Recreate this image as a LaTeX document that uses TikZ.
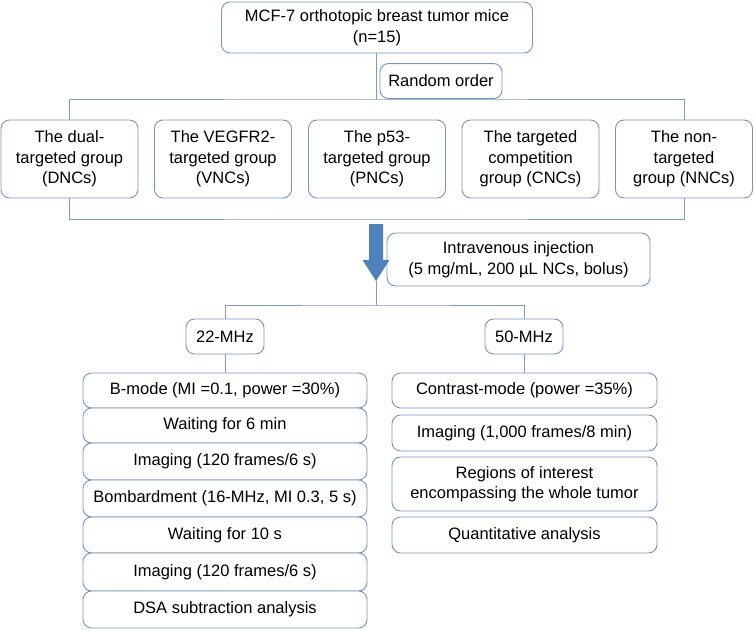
\documentclass[tikz,border=0pt]{standalone}
\usepackage{fontspec}
\setmainfont{Liberation Sans}
\usetikzlibrary{calc}
\definecolor{bordercol}{RGB}{118,148,194}
\definecolor{linecol}{RGB}{125,155,200}
\definecolor{arrowcol}{RGB}{79,129,189}
\tikzset{
  fbox/.style={draw=bordercol, line width=0.9pt, rounded corners=8.5pt, align=center,
    inner sep=0pt, font=\fontsize{16.5}{20.5}\selectfont, fill=white},
  conn/.style={draw=linecol, line width=0.9pt},
}
\begin{document}
\begin{tikzpicture}[x=1pt,y=-1pt]
\useasboundingbox (0,0) rectangle (754,629);
% top
\node[fbox, minimum width=311pt, minimum height=51pt] (top) at (377,27.5) {MCF-7 orthotopic breast tumor mice\\(n=15)};
\coordinate (split1) at (376,99);
\node[fbox, minimum width=122pt, minimum height=35pt, anchor=south] (rand) at (441,99) {Random order};
% groups
\node[fbox, minimum width=137pt, minimum height=78pt] (g1) at (69.5,159) {The dual-\\targeted group\\(DNCs)};
\node[fbox, minimum width=137pt, minimum height=78pt] (g2) at (223,159) {The VEGFR2-\\targeted group\\(VNCs)};
\node[fbox, minimum width=137pt, minimum height=78pt] (g3) at (377,159) {The p53-\\targeted group\\(PNCs)};
\node[fbox, minimum width=137pt, minimum height=78pt] (g4) at (530.5,159) {The targeted\\competition\\group (CNCs)};
\node[fbox, minimum width=137pt, minimum height=78pt] (g5) at (684,159) {The non-\\targeted\\group (NNCs)};
\coordinate (join1) at (376,219);
\coordinate (tip) at (376,281);
\coordinate (split2) at (376,305);
% injection
\node[fbox, minimum width=263pt, minimum height=53pt] (inj) at (518.5,259.5) {Intravenous injection\\(5 mg/mL, 200 µL NCs, bolus)};
% frequencies
\node[fbox, minimum width=78pt, minimum height=35pt] (f22) at (225,336.5) {22-MHz};
\node[fbox, minimum width=78pt, minimum height=35pt] (f50) at (524,336.5) {50-MHz};
% left column
\node[fbox, minimum width=284pt, minimum height=35pt] (l1) at (225,390.5) {B-mode (MI =0.1, power =30\%)};
\node[fbox, minimum width=284pt, minimum height=35pt] (l2) at (225,425.5) {Waiting for 6 min};
\node[fbox, minimum width=284pt, minimum height=37pt] (l3) at (225,461.5) {Imaging (120 frames/6 s)};
\node[fbox, minimum width=284pt, minimum height=37pt] (l4) at (225,498.5) {Bombardment (16-MHz, MI 0.3, 5 s)};
\node[fbox, minimum width=284pt, minimum height=36pt] (l5) at (225,535) {Waiting for 10 s};
\node[fbox, minimum width=284pt, minimum height=38pt] (l6) at (225,572) {Imaging (120 frames/6 s)};
\node[fbox, minimum width=284pt, minimum height=37pt] (l7) at (225,609.5) {DSA subtraction analysis};
% right column
\node[fbox, minimum width=265pt, minimum height=35pt] (r1) at (524.5,390.5) {Contrast-mode (power =35\%)};
\node[fbox, minimum width=265pt, minimum height=36pt] (r2) at (524.5,433) {Imaging (1,000 frames/8 min)};
\node[fbox, minimum width=265pt, minimum height=54pt] (r3) at (524.5,484) {Regions of interest\\encompassing the whole tumor};
\node[fbox, minimum width=265pt, minimum height=36pt] (r4) at (524.5,535) {Quantitative analysis};
% connectors
\draw[conn] (top.south -| split1) -- (split1);
\draw[conn] (g1.north) |- (split1) -| (g5.north);
\draw[conn] (g1.south) |- (join1) -| (g5.south);
\draw[conn] (tip) -- (split2);
\draw[conn] (f22.north) |- (split2) -| (f50.north);
\draw[conn] (f22.south) -- (l1.north -| f22.south);
\draw[conn] (f50.south) -- (r1.north -| f50.south);
% thick arrow
\fill[arrowcol] ($(join1)+(-7,5)$) -- ($(join1)+(7,5)$) -- ($(tip)+(7,-21)$) -- ($(tip)+(13.5,-21)$)
  -- (tip) -- ($(tip)+(-13.5,-21)$) -- ($(tip)+(-7,-21)$) -- cycle;
\end{tikzpicture}
\end{document}
